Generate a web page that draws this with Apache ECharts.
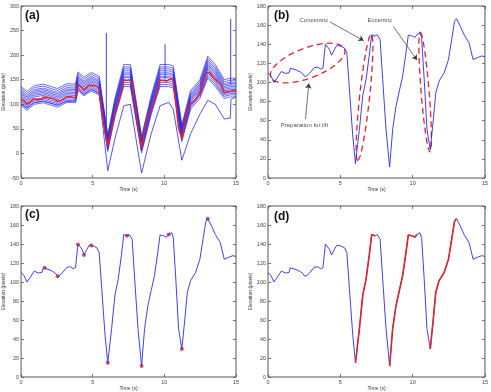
<!DOCTYPE html>
<html>
<head>
<meta charset="utf-8">
<script src="https://cdn.jsdelivr.net/npm/echarts@6/dist/echarts.min.js"></script>
<style>
  html, body { margin: 0; padding: 0; background: #fff; }
  #chart { width: 491px; height: 392px; }
</style>
</head>
<body>
<div id="chart"></div>
<script>
// elevation of the tracked bar (pixels) against time (s)
var mainCurve = [
  [0,110],[0.2,107],[0.41,100],[0.6,104],[0.92,111.5],[1.05,110.5],[1.2,109.5],[1.3,111],[1.45,110],
  [1.55,115],[1.65,115],[1.95,113],[2.23,111],[2.4,109],[2.55,106],[2.7,107],[2.87,109.5],[3.2,115.5],
  [3.45,116],[3.63,114],[3.8,115],[3.9,130],[3.97,140],[4.1,139],[4.25,134.5],[4.39,128.5],[4.5,130],
  [4.6,134.5],[4.75,138.5],[4.9,138.5],[5.1,137.5],[5.29,136],[5.45,131],[5.63,93],[5.86,44],[6.05,15],
  [6.2,35],[6.32,51],[6.55,86],[6.78,103],[7.0,128],[7.17,150],[7.4,148.5],[7.55,150],[7.63,150.3],
  [7.75,145],[7.93,103],[8.16,51],[8.41,11.5],[8.62,51],[8.85,75],[9.08,91],[9.31,106.7],[9.54,131],
  [9.7,149.5],[9.85,149],[10.0,148.5],[10.15,147],[10.3,150],[10.5,152],[10.62,147],[10.8,103],
  [10.99,51],[11.22,29.5],[11.43,61],[11.6,89],[11.83,101.5],[12.18,110],[12.48,124],[12.7,145],
  [12.9,164],[13.03,166.7],[13.15,165],[13.26,160],[13.56,150],[13.9,141.5],[14.18,124],[14.3,122.5],
  [14.48,126],[14.78,127.7],[15,127]
];

// detected turning points, panel (c)
var keyPoints = [
  [1.65,115],[2.55,106],[3.97,139.5],[4.39,128.5],[4.9,138.5],[6.05,15],[7.4,148.6],
  [8.41,11.5],[10.3,150],[11.22,29.6],[13.03,166.7]
];

// concentric phases (start, end), panel (d)
var concentricPhases = [[6.05,7.4],[8.41,10.3],[11.22,13.03]];

// panel (a): all tracked points
var trackTimes = [0,0.41,0.92,1.55,2.55,3.2,3.8,3.97,4.39,4.9,5.45,6.05,6.55,7.17,7.63,8.41,9.08,9.7,10.3,10.62,11.22,11.83,12.48,13.03,13.56,14.18,14.6,15];
var tracks = [
  [98,88,100,103,94,104,103,128,117,127,119,4,74,136,136,1,79,136,136,133,24,90,112,153,136,112,115,115],
  [102,92,104,107,98,108,107,132,121,131,123,8,78,140,140,5,83,140,140,137,28,94,116,157,140,116,119,119],
  [105,95,107,110,101,111,110,135,124,134,126,10,81,144,144,7,86,144,144,141,31,97,119,161,144,119,122,122],
  [108,98,110,113,104,114,113,138,127,137,129,13,84,148,148,10,89,148,148,145,33,100,122,165,148,122,125,125],
  [113,103,115,118,109,119,118,143,132,142,134,18,89,154,154,15,94,154,154,151,38,105,127,171,154,127,130,130],
  [116,106,118,121,112,122,121,146,135,145,137,20,92,157,157,17,97,157,157,154,40,108,130,174,157,130,133,133],
  [119,109,121,124,115,125,124,149,138,148,140,23,95,161,161,20,100,161,161,158,43,111,133,178,161,133,136,136],
  [122,112,124,127,118,128,127,152,141,151,143,26,98,164,164,23,103,164,164,161,46,114,136,181,164,136,139,139],
  [125,115,127,130,121,131,130,155,144,154,146,29,101,168,168,26,106,168,168,165,49,117,139,185,168,139,142,142],
  [128,118,130,133,124,134,133,158,147,157,149,31,104,172,172,28,109,172,172,169,51,120,142,189,172,142,145,145],
  [132,122,134,137,128,138,137,162,151,161,153,35,108,176,176,32,113,176,176,173,55,124,146,193,176,146,149,149],
  [136,126,138,141,132,142,141,166,155,165,157,38,112,181,181,35,117,181,181,178,58,128,150,198,181,150,153,153]
];
var outlierTrack = [
  [0,100],[0.41,92],[0.92,103],[1.55,106],[2.55,98],[3.2,106],[3.8,106],[3.97,130],[4.39,120],[4.9,130],
  [5.45,122],[6.05,-35],[6.55,30],[7.17,97],[7.63,100],[8.41,-40],[9.08,40],[9.7,97],[10.3,104],[10.62,90],
  [11.22,-14],[11.83,40],[12.48,80],[13.03,108],[13.56,100],[14.18,70],[14.6,72],[14.65,110],[15,115]
];
var spikes = [
  [[5.95,60],[5.95,245]],
  [[10.05,150],[10.05,222]],
  [[14.63,140],[14.63,274]]
];

// panel (b) annotations: ellipse = major-axis ends (t, elev) + half width (px)
var ellipses = [
  [0.18,105.6,5.3,135,15],
  [6.21,18.6,7.14,150.5,5],
  [10.53,152.6,11.2,27.3,4]
];
var arrows = [
  [[4.27,163.4],[6.61,143.8]],
  [[8.67,158.5],[10.3,123.5]],
  [[2.59,61.6],[2.82,99]]
];
var notes = [
  [3.17,164.7,'Concentric'],
  [7.74,165.5,'Eccentric'],
  [2.52,55.3,'Preparation for lift']
];

var xRange = [0, 15, 5];
var yRangeA = [-50, 300, 50];
var yRangeB = [0, 180, 20];
var panelNames = ['(a)', '(b)', '(c)', '(d)'];

var BLUE = '#2b2bea';
var RED = '#e3222c';
var FONT = 'Liberation Sans, Arial, sans-serif';

var grids = [
  { left: 18, top: 6, width: 218, height: 172 },
  { left: 268, top: 6, width: 218, height: 172 },
  { left: 18, top: 206, width: 218, height: 171 },
  { left: 268, top: 206, width: 218, height: 171 }
];

var xAxes = [], yAxes = [];
grids.forEach(function (g, i) {
  g.show = true;
  g.borderColor = '#555';
  g.borderWidth = 1;
  var yr = i === 0 ? yRangeA : yRangeB;
  ['bottom', 'top'].forEach(function (pos) {
    xAxes.push({
      type: 'value', gridIndex: i, position: pos,
      min: xRange[0], max: xRange[1], interval: xRange[2],
      name: pos === 'bottom' ? 'Time (s)' : '', nameLocation: 'middle', nameGap: 7,
      nameTextStyle: { fontSize: 5, color: '#333', fontFamily: FONT },
      axisLine: { show: false, onZero: false },
      axisTick: { show: true, inside: true, length: 3, lineStyle: { color: '#555', width: 0.8 } },
      axisLabel: { show: pos === 'bottom', fontSize: 5.5, color: '#444', margin: 2, fontFamily: FONT },
      splitLine: { show: false }
    });
  });
  ['left', 'right'].forEach(function (pos) {
    yAxes.push({
      type: 'value', gridIndex: i, position: pos,
      min: yr[0], max: yr[1], interval: yr[2],
      name: pos === 'left' ? 'Elevation (pixels)' : '', nameLocation: 'middle', nameGap: 11,
      nameTextStyle: { fontSize: 5, color: '#333', fontFamily: FONT },
      axisLine: { show: false, onZero: false },
      axisTick: { show: true, inside: true, length: 3, lineStyle: { color: '#555', width: 0.8 } },
      axisLabel: { show: pos === 'left', fontSize: 5.5, color: '#444', margin: 2, fontFamily: FONT },
      splitLine: { show: false }
    });
  });
});

function lineSeries(idx, data, color, width) {
  return {
    type: 'line', xAxisIndex: idx * 2, yAxisIndex: idx * 2,
    data: data, showSymbol: false, symbol: 'none', silent: true,
    lineStyle: { color: color, width: width }
  };
}

var series = [];

// (a)
tracks.forEach(function (tr) {
  series.push(lineSeries(0, tr.map(function (v, k) { return [trackTimes[k], v]; }), BLUE, 0.7));
});
series.push(lineSeries(0, outlierTrack, BLUE, 0.8));
spikes.forEach(function (s) { series.push(lineSeries(0, s, BLUE, 0.9)); });
series.push(lineSeries(0, mainCurve, RED, 1.5));

// (b)
var bMain = lineSeries(1, mainCurve, BLUE, 0.9);
bMain.markLine = {
  silent: true, animation: false,
  symbol: ['none', 'arrow'], symbolSize: 5,
  label: { show: false },
  lineStyle: { color: '#333', width: 0.7, type: 'solid' },
  data: arrows.map(function (a) { return [{ coord: a[0] }, { coord: a[1] }]; })
};
series.push(bMain);
series.push({
  type: 'custom', xAxisIndex: 2, yAxisIndex: 2, silent: true, clip: false,
  data: ellipses,
  encode: { x: [0, 2], y: [1, 3] },
  renderItem: function (params, api) {
    var p1 = api.coord([api.value(0), api.value(1)]);
    var p2 = api.coord([api.value(2), api.value(3)]);
    var dx = p2[0] - p1[0], dy = p2[1] - p1[1];
    return {
      type: 'ellipse',
      x: (p1[0] + p2[0]) / 2, y: (p1[1] + p2[1]) / 2,
      rotation: -Math.atan2(dy, dx),
      shape: { cx: 0, cy: 0, rx: Math.sqrt(dx * dx + dy * dy) / 2, ry: api.value(4) },
      style: { fill: 'none', stroke: RED, lineWidth: 1.3, lineDash: [6, 4] }
    };
  }
});
series.push({
  type: 'scatter', xAxisIndex: 2, yAxisIndex: 2, silent: true, symbolSize: 0,
  data: notes.map(function (n) { return { value: [n[0], n[1]], name: n[2] }; }),
  label: { show: true, position: 'inside', formatter: '{b}', fontSize: 6, color: '#222', fontFamily: FONT }
});

// (c)
series.push(lineSeries(2, mainCurve, BLUE, 0.9));
series.push({
  type: 'scatter', xAxisIndex: 4, yAxisIndex: 4, silent: true,
  data: keyPoints, symbol: 'circle', symbolSize: 4,
  itemStyle: { color: RED }
});

// (d)
series.push(lineSeries(3, mainCurve, BLUE, 0.9));
concentricPhases.forEach(function (ph) {
  series.push(lineSeries(3, mainCurve.filter(function (p) { return p[0] >= ph[0] && p[0] <= ph[1]; }), RED, 1.6));
});

var labelPos = [[25, 10], [274, 10], [25, 209], [274, 211]];
var graphic = panelNames.map(function (n, i) {
  return {
    type: 'text', left: labelPos[i][0], top: labelPos[i][1], silent: true,
    style: { text: n, fontSize: 12, fontWeight: 'bold', fontFamily: FONT, fill: '#111' }
  };
});

var chart = echarts.init(document.getElementById('chart'));
chart.setOption({
  animation: false,
  backgroundColor: '#fff',
  grid: grids,
  xAxis: xAxes,
  yAxis: yAxes,
  graphic: graphic,
  series: series
});
</script>
</body>
</html>
